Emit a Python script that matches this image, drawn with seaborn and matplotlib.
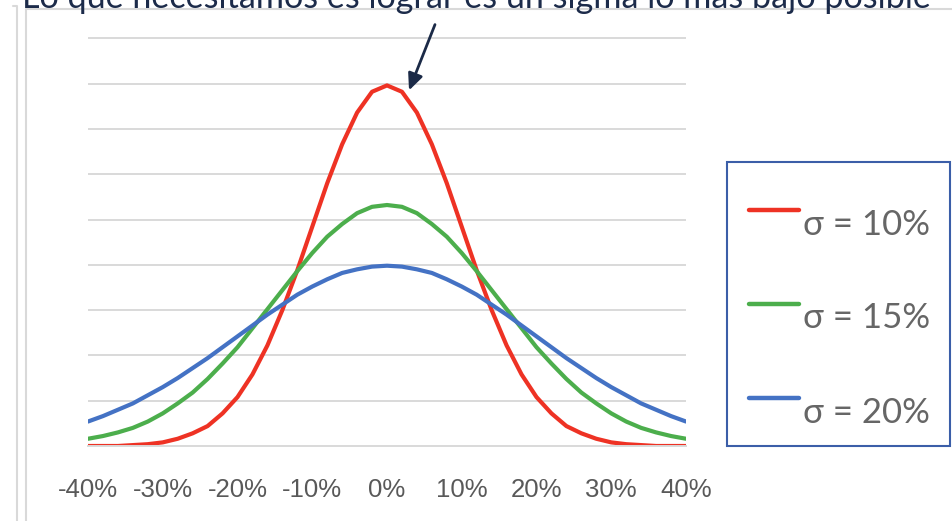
import numpy as np
import pandas as pd
import matplotlib
matplotlib.use("Agg")
import matplotlib.pyplot as plt
from matplotlib.lines import Line2D
from matplotlib.patches import Rectangle
import seaborn as sns

# values (x in %, y in density units, gridline step = 0.5)
x_pct = [-40, -38, -36, -34, -32, -30, -28, -26, -24, -22, -20, -18, -16, -14, -12, -10, -8, -6, -4, -2,
         0, 2, 4, 6, 8, 10, 12, 14, 16, 18, 20, 22, 24, 26, 28, 30, 32, 34, 36, 38, 40]
s10 = [0.00, 0.00, 0.00, 0.01, 0.02, 0.04, 0.08, 0.14, 0.22, 0.36, 0.54, 0.79, 1.11, 1.50, 1.94, 2.42, 2.90, 3.33, 3.68, 3.91,
       3.98, 3.91, 3.68, 3.33, 2.90, 2.42, 1.94, 1.50, 1.11, 0.79, 0.54, 0.36, 0.22, 0.14, 0.08, 0.04, 0.02, 0.01, 0.00, 0.00, 0.00]
s15 = [0.08, 0.11, 0.15, 0.20, 0.27, 0.36, 0.47, 0.59, 0.74, 0.91, 1.09, 1.30, 1.51, 1.72, 1.93, 2.13, 2.31, 2.45, 2.57, 2.64,
       2.66, 2.64, 2.57, 2.45, 2.31, 2.13, 1.93, 1.72, 1.51, 1.30, 1.09, 0.91, 0.74, 0.59, 0.47, 0.36, 0.27, 0.20, 0.15, 0.11, 0.08]
s20 = [0.27, 0.33, 0.40, 0.47, 0.56, 0.65, 0.75, 0.86, 0.97, 1.09, 1.21, 1.33, 1.45, 1.56, 1.67, 1.76, 1.84, 1.91, 1.95, 1.98,
       1.99, 1.98, 1.95, 1.91, 1.84, 1.76, 1.67, 1.56, 1.45, 1.33, 1.21, 1.09, 0.97, 0.86, 0.75, 0.65, 0.56, 0.47, 0.40, 0.33, 0.27]
labels = ["σ = 10%", "σ = 15%", "σ = 20%"]
colors = ["#ee3224", "#4cae4c", "#4472c4"]
xticks = [-40, -30, -20, -10, 0, 10, 20, 30, 40]
title = "Lo que necesitamos es lograr es un sigma lo más bajo posible"

df = pd.DataFrame({
    "x": x_pct * 3,
    "y": s10 + s15 + s20,
    "serie": [labels[0]] * len(x_pct) + [labels[1]] * len(x_pct) + [labels[2]] * len(x_pct),
})

sns.set_style("white")
plt.rcParams["font.family"] = ["Lato", "DejaVu Sans"]

W, H = 952, 521
fig = plt.figure(figsize=(W / 100, H / 100), dpi=100)
ax = fig.add_axes([88 / W, (H - 446) / H, (686 - 88) / W, (4.6 * 90.6) / H])

sns.lineplot(data=df, x="x", y="y", hue="serie", palette=dict(zip(labels, colors)),
             linewidth=3.0, legend=False, ax=ax)

ax.set_xlim(-40, 40)
ax.set_ylim(0, 4.6)
ax.set_yticks(np.arange(0.5, 4.6, 0.5))
ax.set_yticklabels([])
ax.yaxis.grid(True, color="#d9d9d9", linewidth=1.4)
ax.set_axisbelow(True)
ax.set_xticks(xticks)
ax.set_xticklabels([f"{t}%" for t in xticks], fontsize=18.5, color="#595959",
                   family=["Liberation Sans", "DejaVu Sans"])
ax.tick_params(axis="x", length=7, width=1.3, color="#d9d9d9", pad=16)
ax.tick_params(axis="y", length=0)
for side in ["top", "left", "right"]:
    ax.spines[side].set_visible(False)
ax.spines["bottom"].set_color("#d9d9d9")
ax.spines["bottom"].set_linewidth(1.4)
ax.set_xlabel("")
ax.set_ylabel("")


def fx(px):
    return px / W


def fy(py):
    return (H - py) / H


# frame lines of the slide
for xs, ys in [([13, 17, 17], [6, 6, H]), ([26, 26, W], [H, 9, 9])]:
    fig.add_artist(Line2D([fx(v) for v in xs], [fy(v) for v in ys], transform=fig.transFigure,
                          color="#d9d9d9", linewidth=1.5))

# title, cut by the top edge
fig.text(fx(22), fy(8), title, fontsize=24.6, color="#1c2b4a", va="baseline", ha="left")

# arrow to the peak
ax.annotate("", xy=(408, H - 93), xycoords="figure pixels",
            xytext=(436, H - 22), textcoords="figure pixels",
            arrowprops=dict(arrowstyle="-|>,head_length=1.0,head_width=0.45",
                            color="#1b2a47", lw=2))

# legend box
fig.add_artist(Rectangle((fx(727), fy(446)), fx(950) - fx(727), fy(162) - fy(446),
                         transform=fig.transFigure, fill=False, edgecolor="#3b5ea8", linewidth=1.5))
for lab, col, ly, ty in zip(labels, colors, [210, 304, 398], [225, 318, 413]):
    fig.add_artist(Line2D([fx(749), fx(799)], [fy(ly), fy(ly)], transform=fig.transFigure,
                          color=col, linewidth=3.2, solid_capstyle="round"))
    fig.text(fx(803), fy(ty), lab, fontsize=25, color="#666666", va="center", ha="left")

fig.savefig("out.png", dpi=100)
